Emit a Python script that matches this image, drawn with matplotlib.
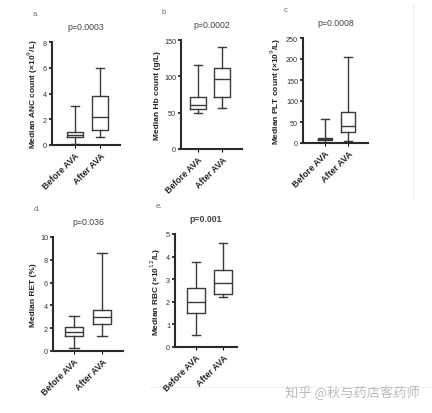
import matplotlib
matplotlib.use("Agg")
import matplotlib.pyplot as plt

plt.rcParams['font.family'] = ['Liberation Sans', 'DejaVu Sans']

groups = ['Before AVA', 'After AVA']

# five-number summaries: low whisker, q1, median, q3, high whisker
anc_before = [0.05, 0.6, 0.8, 1.0, 3.0]
anc_after = [0.6, 1.2, 2.2, 3.8, 6.0]
hb_before = [50, 55, 60, 72, 115]
hb_after = [57, 72, 97, 112, 140]
plt_before = [0, 7, 10, 13, 57]
plt_after = [5, 27, 40, 75, 205]
ret_before = [0.3, 1.3, 1.7, 2.1, 3.1]
ret_after = [1.3, 2.4, 3.0, 3.6, 8.6]
rbc_before = [0.55, 1.5, 2.0, 2.6, 3.75]
rbc_after = [2.2, 2.35, 2.85, 3.4, 4.6]

p_values = ['p=0.0003', 'p=0.0002', 'p=0.0008', 'p=0.036', 'p=0.001']
panel_tags = ['a', 'b', 'c', 'd.', 'e.']
ylabels = ['Median ANC count (×10$^9$/L)', 'Median Hb count (g/L)',
           'Median PLT count (×10$^9$/L)', 'Median RET (%)',
           'Median RBC (×10$^{12}$/L)']
yticks = [[0, 2, 4, 6, 8], [0, 50, 100, 150], [0, 50, 100, 150, 200, 250],
          [0, 2, 4, 6, 8, 10], [0, 1, 2, 3, 4, 5]]

W, H = 432, 414
fig = plt.figure(figsize=(W / 100, H / 100), dpi=100)

# pixel layout: left, right, top, bottom, x of box 1, x of box 2
layout = [
    (52, 120, 43, 146, 75, 100),
    (181, 242, 41, 150, 198, 222),
    (303, 368, 39, 144, 325, 348),
    (53, 123, 238, 352, 74, 102),
    (175, 237, 235, 348, 196, 223),
]
summaries = [(anc_before, anc_after), (hb_before, hb_after), (plt_before, plt_after),
             (ret_before, ret_after), (rbc_before, rbc_after)]


def stats(v):
    return dict(whislo=v[0], q1=v[1], med=v[2], q3=v[3], whishi=v[4], fliers=[])


# faint frame lines from the original scan, kept behind the panels
fig.add_artist(plt.Line2D([413 / W, 413 / W], [1 - 5 / H, 1 - 200 / H],
                          color='#eeeeee', linewidth=0.8, zorder=-5))
fig.add_artist(plt.Line2D([150 / W, 432 / W], [1 - 388 / H, 1 - 388 / H],
                          color='#f0f0f0', linewidth=0.8, zorder=-5))

for i, (l, r, t, b, x1, x2) in enumerate(layout):
    ax = fig.add_axes([l / W, 1 - b / H, (r - l) / W, (b - t) / H])
    ax.patch.set_alpha(0)
    unit = x2 - x1
    ax.set_xlim(1 - (x1 - l) / unit, 2 + (r - x2) / unit)
    ax.set_ylim(0, yticks[i][-1])
    lw = 1.0
    ax.bxp([stats(summaries[i][0]), stats(summaries[i][1])], positions=[1, 2],
           widths=0.65, showfliers=False,
           boxprops=dict(color='#3a3a3a', linewidth=lw),
           medianprops=dict(color='#3a3a3a', linewidth=lw),
           whiskerprops=dict(color='#3a3a3a', linewidth=lw),
           capprops=dict(color='#3a3a3a', linewidth=lw))
    for s in ['top', 'right']:
        ax.spines[s].set_visible(False)
    for s in ['left', 'bottom']:
        ax.spines[s].set_linewidth(1.5)
        ax.spines[s].set_color('#2a2a2a')
    ax.set_yticks(yticks[i])
    ax.set_xticks([1, 2])
    ax.set_xticklabels(groups, rotation=45, ha='right', rotation_mode='anchor',
                       fontsize=6.3, fontweight='bold', color='#222222')
    ax.tick_params(axis='y', labelsize=5.2, length=2.5, width=1.1, pad=1,
                   labelcolor='#333333')
    ax.tick_params(axis='x', length=2, width=0.8, pad=2)
    ax.set_ylabel(ylabels[i], fontsize=6.0, fontweight='bold', labelpad=2,
                  color='#222222')
    ax.set_title(p_values[i], fontsize=6.3, color='#444444', pad=9,
                 fontweight='bold' if i == 4 else 'normal')
    ax.text((l - 19) / W, 1 - (t - 28) / H, panel_tags[i], transform=fig.transFigure,
            fontsize=5.5, color='#666666', va='center')

fig.text(285 / W, 1 - 393 / H, '知乎 @秋与药店客药师', fontsize=9.5, color='#bbbbbb',
         va='center', family=['Noto Sans CJK SC', 'DejaVu Sans'])

fig.savefig('out.png', dpi=100)
